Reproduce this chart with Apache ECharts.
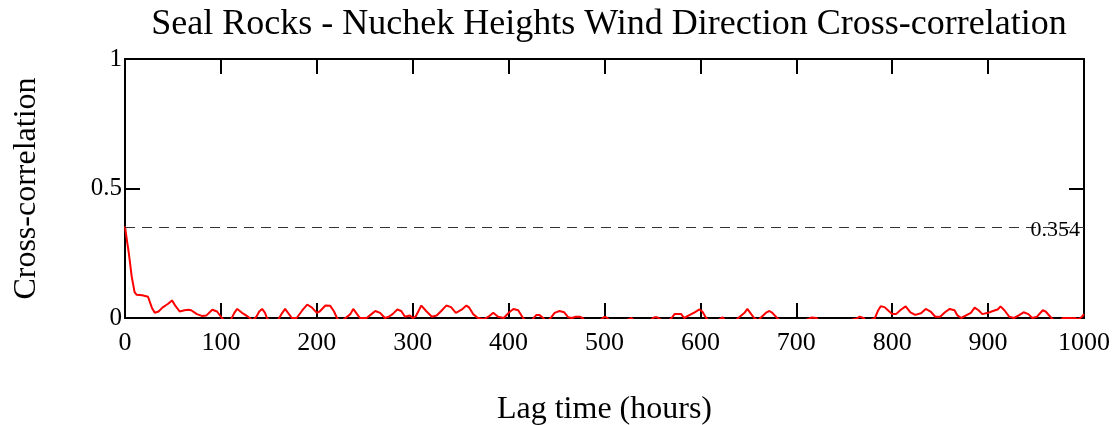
<!DOCTYPE html>
<html>
<head>
<meta charset="utf-8">
<script src="https://cdn.jsdelivr.net/npm/echarts@6/dist/echarts.min.js"></script>
<style>
  html, body { margin: 0; padding: 0; background: #fff; }
  #chart { width: 1117px; height: 425px; }
</style>
</head>
<body>
<div id="chart"></div>
<script>
// lag (hours) and cross-correlation
var lagHours = [0, 2, 4, 7, 10, 12, 18, 24, 26, 28, 31, 35, 39, 45, 49, 52, 57, 62, 66, 69, 75, 80, 85, 91, 96,
  101, 105, 110, 114, 117, 122, 127, 130, 133, 137, 140, 143, 146, 148, 152, 156, 160, 164, 167, 170, 174, 179,
  185, 190, 195, 200, 203, 209, 214, 218, 221, 225, 230, 235, 238, 241, 245, 252, 257, 261, 266, 271, 275, 279,
  284, 288, 292, 297, 300, 303, 309, 314, 320, 325, 330, 335, 340, 345, 351, 356, 359, 363, 368, 374, 379, 384,
  389, 395, 400, 405, 410, 415, 420, 425, 429, 432, 436, 440, 445, 448, 453, 458, 462, 466, 470, 474, 477, 481,
  490, 497, 500, 503, 506, 515, 525, 528, 531, 540, 549, 552, 555, 558, 565, 570, 573, 580, 583, 589, 594, 599,
  602, 606, 610, 618, 623, 626, 635, 641, 646, 649, 652, 656, 660, 664, 669, 672, 675, 680, 685, 700, 712, 716,
  721, 725, 740, 755, 763, 766, 770, 774, 779, 782, 785, 788, 792, 795, 800, 804, 809, 814, 819, 824, 830, 835,
  840, 845, 850, 855, 860, 865, 868, 872, 877, 882, 886, 890, 894, 900, 905, 910, 913, 917, 922, 927, 932, 937,
  942, 946, 951, 957, 960, 966, 971, 975, 978, 985, 990, 994, 998, 1000];
var crossCorr = [0.354, 0.30, 0.25, 0.16, 0.10, 0.09, 0.088, 0.082, 0.077, 0.04, 0.02, 0.025, 0.04, 0.055, 0.068,
  0.05, 0.025, 0.03, 0.032, 0.03, 0.015, 0.008, 0.01, 0.032, 0.025,
  0.0, -0.015, -0.01, 0.02, 0.035, 0.02, 0.008, 0.0, -0.01, 0.005, 0.025, 0.035, 0.02, 0.0, -0.015, -0.015, -0.005,
  0.02, 0.035, 0.02, 0.0, 0.0,
  0.03, 0.052, 0.04, 0.02, 0.025, 0.048, 0.047, 0.025, 0.0, -0.015, 0.0, 0.015, 0.035, 0.02, 0.0, 0.0, 0.015, 0.027,
  0.02, 0.0, 0.005, 0.015,
  0.033, 0.027, 0.005, 0.01, 0.0, 0.005, 0.048, 0.027, 0.005, 0.01, 0.028, 0.048, 0.042, 0.02, 0.032, 0.048, 0.04,
  0.015, 0.0, -0.005, 0.005, 0.02,
  0.005, 0.0, 0.02, 0.035, 0.03, 0.0, -0.015, -0.005, 0.012, 0.012, 0.0, -0.015, 0.005, 0.02, 0.027, 0.022, 0.003,
  0.0, 0.005, 0.005, 0.0, -0.015,
  -0.015, -0.005, 0.005, 0.0, -0.015, -0.02, -0.005, 0.0, -0.01, -0.02, -0.005, 0.003, 0.003, -0.005, -0.015, 0.0,
  0.015, 0.015, 0.0, 0.012, 0.022, 0.033,
  0.025, 0.0, -0.015, -0.01, 0.003, -0.01, -0.015, 0.005, 0.02, 0.035, 0.02, 0.0, -0.01, 0.005, 0.022, 0.027, 0.02,
  0.0, -0.015, -0.02, -0.005, 0.002,
  0.0, -0.015, -0.02, -0.01, -0.002, 0.005, 0.0, -0.015, -0.005, 0.0, 0.027, 0.045, 0.042, 0.032, 0.015, 0.015,
  0.032, 0.045, 0.022, 0.012, 0.018, 0.035,
  0.025, 0.005, 0.005, 0.022, 0.035, 0.03, 0.01, 0.0, 0.01, 0.02, 0.04, 0.03, 0.015, 0.02, 0.027, 0.033, 0.045, 0.03,
  0.005, 0.0, 0.01, 0.022,
  0.015, 0.0, 0.005, 0.03, 0.025, 0.0, -0.015, -0.01, 0.0, 0.0, 0.0, -0.005, 0.005, 0.015];
var threshold = 0.354;
var xTicks = [0, 1000, 100];   // min, max, interval
var yTicks = [0, 1, 0.5];

var serif = '"Liberation Serif", "Times New Roman", serif';
var myChart = echarts.init(document.getElementById('chart'));

var seriesData = lagHours.map(function (h, i) { return [h, crossCorr[i]]; });

// box axes: ticks inward on all 4 sides
function boxAxis(extra) {
  return Object.assign({
    type: 'value',
    axisLine: { show: true, onZero: false, lineStyle: { color: '#000', width: 2 } },
    axisTick: { show: true, inside: true, length: 15, lineStyle: { color: '#000', width: 2 } },
    splitLine: { show: false }
  }, extra);
}

var option = {
  backgroundColor: '#fff',
  animation: false,
  title: {
    text: 'Seal Rocks - Nuchek Heights Wind Direction Cross-correlation',
    left: 604,
    textAlign: 'center',
    top: 2,
    textStyle: { fontFamily: serif, fontSize: 36, fontWeight: 'normal', color: '#000' }
  },
  grid: { left: 125, right: 33, top: 59, bottom: 107, containLabel: false, outerBoundsMode: 'none' },
  xAxis: [
    boxAxis({
      position: 'bottom',
      min: xTicks[0], max: xTicks[1], interval: xTicks[2],
      name: 'Lag time (hours)',
      nameLocation: 'middle',
      nameGap: 76,
      nameTextStyle: { fontFamily: serif, fontSize: 32, color: '#000' },
      axisLabel: {
        margin: 12, fontFamily: serif, fontSize: 26, color: '#000',
        formatter: function (v) { return String(v); }
      }
    }),
    boxAxis({
      position: 'top',
      min: xTicks[0], max: xTicks[1], interval: xTicks[2],
      axisLabel: { show: false }
    })
  ],
  yAxis: [
    boxAxis({
      position: 'left',
      min: yTicks[0], max: yTicks[1], interval: yTicks[2],
      name: 'Cross-correlation',
      nameLocation: 'middle',
      nameGap: 82,
      nameTextStyle: { fontFamily: serif, fontSize: 32, color: '#000' },
      axisLabel: { margin: 3, fontFamily: serif, fontSize: 25, color: '#000' }
    }),
    boxAxis({
      position: 'right',
      min: yTicks[0], max: yTicks[1], interval: yTicks[2],
      axisLabel: { show: false }
    })
  ],
  series: [
    {
      type: 'line',
      data: seriesData,
      showSymbol: false,
      clip: true,
      lineStyle: { color: '#ff0000', width: 2 },
      itemStyle: { color: '#ff0000' },
      z: 3,
      markLine: {
        silent: true,
        symbol: 'none',
        lineStyle: { color: '#333', type: [10, 7], width: 1 },
        label: {
          show: true,
          position: 'insideEnd',
          distance: 4,
          offset: [0, 3],
          formatter: function () { return threshold.toFixed(3); },
          fontFamily: serif, fontSize: 22, color: '#000'
        },
        data: [{ yAxis: threshold }]
      }
    }
  ]
};

myChart.setOption(option);
window.addEventListener('resize', function () { myChart.resize(); });
</script>
</body>
</html>
